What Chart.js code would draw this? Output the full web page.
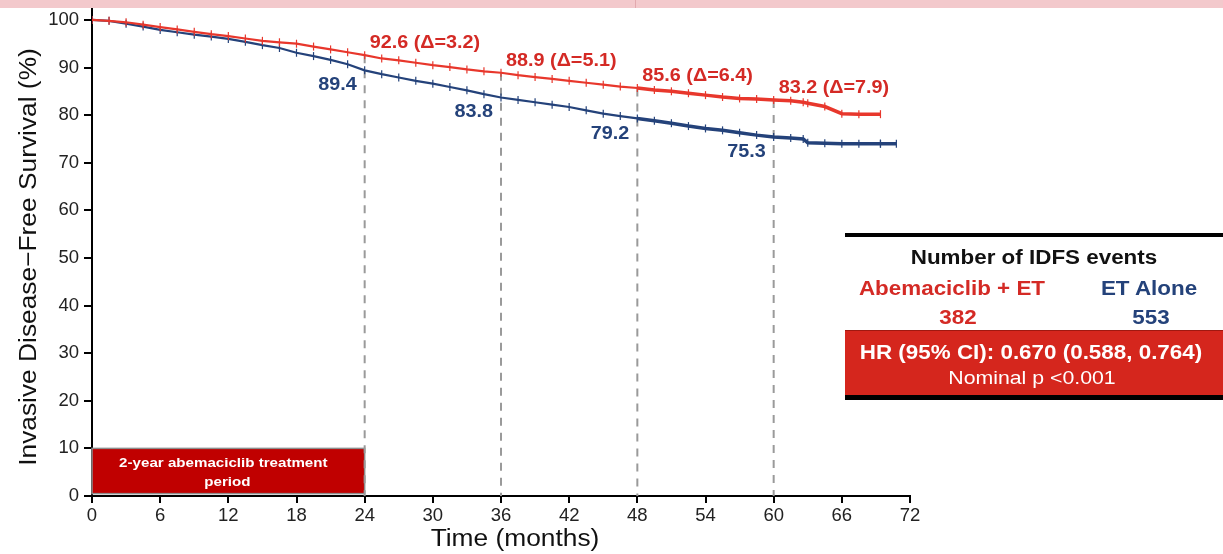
<!DOCTYPE html>
<html>
<head>
<meta charset="utf-8">
<script src="https://cdn.jsdelivr.net/npm/chart.js@4.4.1/dist/chart.umd.min.js"></script>
<style>
  body { margin: 0; background: #fff; font-family: "Liberation Sans", Arial, sans-serif; }
  #wrap { position: relative; width: 1223px; height: 554px; overflow: hidden; }
  #band { position: absolute; left: 0; top: 0; width: 1223px; height: 8px; background: #f3c9cc; }
  #band2 { position: absolute; left: 635px; top: 0; width: 1px; height: 8px; background: #e2a9ae; }
  #box { position: absolute; left: 845px; top: 233px; width: 378px; height: 168px; }
  .bar { position: absolute; left: 0; width: 378px; height: 4px; background: #000; }
  .t { position: absolute; font-weight: bold; font-size: 20px; line-height: 24px; text-align: center; white-space: nowrap; transform: scaleX(1.12); }
  #hr { position: absolute; left: 0; top: 97px; width: 378px; height: 65px; background: #d5261d; border-top: 1px solid #a01810; }
</style>
</head>
<body>
<div id="wrap">
  <canvas id="myChart" width="1223" height="554"></canvas>
  <div id="band"></div><div id="band2"></div>
  <div id="box">
    <div class="bar" style="top:0"></div>
    <div class="t" style="left:0;width:378px;top:12px;color:#111">Number of IDFS events</div>
    <div class="t" style="left:7px;width:200px;top:43px;color:#d42a25">Abemaciclib + ET</div>
    <div class="t" style="left:244px;width:120px;top:43px;color:#24427a">ET Alone</div>
    <div class="t" style="left:13px;width:200px;top:72px;color:#d42a25">382</div>
    <div class="t" style="left:246px;width:120px;top:72px;color:#24427a">553</div>
    <div id="hr">
      <div class="t" style="left:-3px;width:378px;top:9px;color:#fff">HR (95% CI): 0.670 (0.588, 0.764)</div>
      <div class="t" style="left:-2px;width:378px;top:35px;color:#fff;font-weight:normal;font-size:19px">Nominal p &lt;0.001</div>
    </div>
    <div class="bar" style="top:162px;height:5px"></div>
  </div>
</div>
<script>
// data
const months = [0, 1.5, 3, 4.5, 6, 7.5, 9, 10.5, 12, 13.5, 15, 16.5, 18, 19.5, 21, 22.5, 24, 25.5, 27, 28.5, 30, 31.5, 33, 34.5, 36, 37.5, 39, 40.5, 42, 43.5, 45, 46.5, 48, 49.5, 51, 52.5, 54, 55.5, 57, 58.5, 60, 61.5, 62.6, 63, 64.5, 66, 67.5, 69.4];
const abemaET = [100, 99.8, 99.5, 99.0, 98.5, 98.0, 97.5, 97.0, 96.6, 96.1, 95.6, 95.3, 95.0, 94.4, 93.8, 93.2, 92.6, 91.9, 91.5, 91.0, 90.5, 90.1, 89.6, 89.2, 88.9, 88.4, 88.0, 87.6, 87.2, 86.8, 86.4, 86.0, 85.7, 85.3, 85.0, 84.6, 84.2, 83.8, 83.5, 83.4, 83.2, 83.0, 82.7, 82.5, 81.8, 80.3, 80.2, 80.2];
const etAlone = [100, 99.8, 99.2, 98.6, 97.9, 97.4, 96.9, 96.5, 96.0, 95.4, 94.7, 94.1, 93.1, 92.4, 91.6, 90.7, 89.4, 88.6, 87.9, 87.2, 86.6, 85.9, 85.2, 84.4, 83.7, 83.2, 82.7, 82.2, 81.7, 81.0, 80.3, 79.8, 79.3, 78.8, 78.3, 77.7, 77.2, 76.8, 76.3, 75.8, 75.4, 75.2, 75.0, 74.2, 74.1, 74.0, 74.0, 74.0];
const etTail = [{ x: 69.4, y: 74.0 }, { x: 70.8, y: 74.0 }];

const landmarks = [24, 36, 48, 60];
const landAbema = [92.6, 88.9, 85.6, 83.2];
const landET = [89.4, 83.8, 79.2, 75.3];
const landDelta = [3.2, 5.1, 6.4, 7.9];

const xTicks = [0, 6, 12, 18, 24, 30, 36, 42, 48, 54, 60, 66, 72];
const yTicks = [0, 10, 20, 30, 40, 50, 60, 70, 80, 90, 100];

const RED = '#e8372c';
const BLUE = '#24427a';
const FONT = '"Liberation Sans", Arial, sans-serif';

function pts(ys) {
  return months.map((m, i) => ({ x: m, y: ys[i] }));
}

const datasets = [];
landmarks.forEach((m, i) => {
  datasets.push({
    data: [{ x: m, y: landAbema[i] }, { x: m, y: 0 }],
    borderColor: '#9a9a9a', borderWidth: 2, borderDash: [8, 7], pointRadius: 0, order: 5
  });
});
// thicker after 48 months where censor marks crowd the line
const denser = (ctx) => ctx.p0.parsed.x >= 48 ? 3.5 : 2.2;
datasets.push({
  label: 'ET Alone', data: pts(etAlone).concat(etTail),
  borderColor: BLUE, backgroundColor: BLUE, borderWidth: 2.2, segment: { borderWidth: denser },
  pointStyle: 'line', rotation: 90, pointRadius: 4, pointBorderWidth: 1.2, pointBorderColor: BLUE, order: 2
});
datasets.push({
  label: 'Abemaciclib + ET', data: pts(abemaET),
  borderColor: RED, backgroundColor: RED, borderWidth: 2.2, segment: { borderWidth: denser },
  pointStyle: 'line', rotation: 90, pointRadius: 4, pointBorderWidth: 1.2, pointBorderColor: RED, order: 1
});

function stretchText(ctx, text, x, y, sx, align) {
  ctx.save();
  ctx.translate(x, y);
  ctx.scale(sx, 1);
  ctx.textAlign = align;
  ctx.fillText(text, 0, 0);
  ctx.restore();
}

// treatment period box, landmark labels, axis titles
const annot = {
  id: 'annot',
  beforeDatasetsDraw(chart) {
    const { ctx, scales: { x, y } } = chart;
    const x0 = x.getPixelForValue(0), x1 = x.getPixelForValue(24);
    const y0 = y.getPixelForValue(10), y1 = y.getPixelForValue(0.5);
    ctx.save();
    ctx.fillStyle = '#c00000';
    ctx.strokeStyle = '#8c8c8c';
    ctx.lineWidth = 1.5;
    ctx.fillRect(x0, y0, x1 - x0, y1 - y0);
    ctx.strokeRect(x0, y0, x1 - x0, y1 - y0);
    ctx.fillStyle = '#fff';
    ctx.font = 'bold 13.5px ' + FONT;
    ctx.textBaseline = 'middle';
    const cx = (x0 + x1) / 2 - 5;
    stretchText(ctx, '2-year abemaciclib treatment', cx, y0 + 15, 1.12, 'center');
    stretchText(ctx, 'period', cx + 4, y0 + 34, 1.12, 'center');
    ctx.restore();
  },
  afterDatasetsDraw(chart) {
    const { ctx, scales: { x, y } } = chart;
    ctx.save();
    ctx.font = 'bold 18px ' + FONT;
    ctx.textBaseline = 'middle';
    landmarks.forEach((m, i) => {
      const px = x.getPixelForValue(m);
      ctx.fillStyle = '#d42a25';
      stretchText(ctx, landAbema[i].toFixed(1) + ' (\u0394=' + landDelta[i].toFixed(1) + ')', px + 5, y.getPixelForValue(landAbema[i]) - 12, 1.1, 'left');
      ctx.fillStyle = BLUE;
      stretchText(ctx, landET[i].toFixed(1), px - 8, y.getPixelForValue(landET[i]) + 15, 1.1, 'right');
    });
    ctx.restore();
  },
  afterDraw(chart) {
    const { ctx } = chart;
    ctx.save();
    ctx.fillStyle = '#111';
    ctx.textBaseline = 'middle';
    ctx.font = '23.5px ' + FONT;
    stretchText(ctx, 'Time (months)', 515, 540, 1.12, 'center');
    ctx.translate(30, 257);
    ctx.rotate(-Math.PI / 2);
    stretchText(ctx, 'Invasive Disease\u2212Free Survival (%)', 0, 0, 1.12, 'center');
    ctx.restore();
  }
};

const tickFont = { family: FONT, size: 18.5 };

const config = {
  type: 'line',
  data: { datasets },
  options: {
    responsive: false,
    animation: false,
    layout: { padding: { top: 8, right: 313, left: 0, bottom: 0 } },
    plugins: { legend: { display: false }, tooltip: { enabled: false } },
    elements: { line: { tension: 0 } },
    scales: {
      x: {
        type: 'linear', min: 0, max: 72,
        afterBuildTicks: (s) => { s.ticks = xTicks.map(v => ({ value: v })); },
        afterFit: (s) => { s.height = 58; s.paddingLeft = 0; s.paddingRight = 0; },
        ticks: { font: tickFont, color: '#222', padding: 2, maxRotation: 0, autoSkip: false },
        grid: { drawOnChartArea: false, drawTicks: true, tickLength: 7, color: '#000', lineWidth: 2 },
        border: { color: '#000', width: 2 }
      },
      y: {
        type: 'linear', min: 0, max: 102.5,
        afterBuildTicks: (s) => { s.ticks = yTicks.map(v => ({ value: v })); },
        afterFit: (s) => { s.width = 92; s.paddingTop = 0; s.paddingBottom = 0; },
        ticks: { font: tickFont, color: '#222', padding: 5 },
        grid: { drawOnChartArea: false, drawTicks: true, tickLength: 8, color: '#000', lineWidth: 2 },
        border: { color: '#000', width: 2 }
      }
    }
  },
  plugins: [annot]
};

const myChart = new Chart(document.getElementById('myChart'), config);
</script>
</body>
</html>
